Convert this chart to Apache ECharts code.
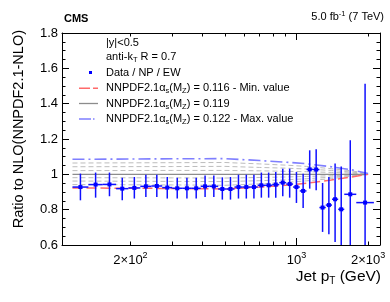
<!DOCTYPE html>
<html><head><meta charset="utf-8">
<script src="https://cdn.jsdelivr.net/npm/echarts@6/dist/echarts.min.js"></script>
<style>html,body{margin:0;padding:0;background:#fff}#c{width:390px;height:302px}</style>
</head><body><div id="c"></div>
<script>
// ---- data ----
const binEdges = [114,133,153,174,196,220,245,272,300,330,362,395,430,468,507,548,592,638,686,737,790,846,905,967,1032,1101,1172,1248,1327,1410,1497,1588,1784,2116];
const ratio   = [0.928,0.942,0.943,0.919,0.923,0.932,0.934,0.925,0.921,0.921,0.921,0.932,0.932,0.917,0.917,0.928,0.928,0.928,0.938,0.938,0.942,0.953,0.945,0.928,0.906,1.028,1.027,0.812,0.826,0.859,0.802,0.887,0.840];
const errUp   = [0.076,0.068,0.067,0.062,0.062,0.066,0.064,0.060,0.060,0.060,0.060,0.061,0.061,0.066,0.068,0.070,0.070,0.070,0.072,0.072,0.071,0.079,0.087,0.085,0.098,0.108,0.115,0.139,0.159,0.202,0.243,0.306,0.673];
const errDown = [0.075,0.074,0.067,0.066,0.060,0.060,0.062,0.062,0.058,0.058,0.058,0.060,0.060,0.060,0.060,0.065,0.065,0.065,0.070,0.070,0.074,0.077,0.077,0.090,0.097,0.109,0.117,0.138,0.165,0.242,0.300,0.400,0.700];

const thPt      = [114, 300, 500, 700, 900, 1100, 1400, 1700, 2000];
const thMin     = [0.923,0.920,0.917,0.928,0.938,0.950,0.968,0.985,1.000]; // alpha_s 0.116
const thCentral = [1.000,1.000,1.000,1.000,1.000,1.000,1.000,1.000,1.000]; // alpha_s 0.119
const thMax     = [1.085,1.088,1.089,1.078,1.069,1.060,1.043,1.026,1.005]; // alpha_s 0.122
const thGrayA = [0.942,0.940,0.938,0.946,0.954,0.963,0.976,0.989,1.000];
const thGrayB = [0.962,0.960,0.959,0.964,0.969,0.975,0.984,0.993,1.000];
const thGrayC = [0.981,0.980,0.979,0.982,0.985,0.988,0.992,0.996,1.000];
const thGrayD = [1.021,1.022,1.022,1.020,1.017,1.015,1.011,1.007,1.001];
const thGrayE = [1.043,1.044,1.045,1.039,1.035,1.030,1.022,1.013,1.003];
const thGrayF = [1.064,1.066,1.067,1.059,1.052,1.045,1.032,1.020,1.004];

const xMinorTicks = [200,300,400,500,600,700,800,900,2000];
const xMajorTicks = [1000];
const xLabelValues = [200, 1000, 2000];
const xLabelTexts = ['2×10{sup|2}', '10{sup|3}', '2×10{sup|3}'];
const yTicks = [0.6, 0.8, 1, 1.2, 1.4, 1.6, 1.8];
const xRange = [103, 2245];

// ---- build ----
const L = Math.log10;
const FONT = 'Liberation Sans, Arial, Helvetica, sans-serif';
const dataPts = ratio.map((v, i) => [L(binEdges[i]), L(binEdges[i+1]), (L(binEdges[i]) + L(binEdges[i+1])) / 2, v, v - errDown[i], v + errUp[i]]);
const curve = arr => thPt.map((p, i) => [L(p), arr[i]]);

function xAxisCfg(pos, ticks, len, showLine, labels) {
  return {
    type: 'value', position: pos, min: L(xRange[0]), max: L(xRange[1]),
    axisLine: {show: showLine, onZero: false, lineStyle: {color: '#000', width: 1}},
    axisTick: {show: true, inside: true, length: len, customValues: ticks.map(L), lineStyle: {color: '#000', width: 1}},
    axisLabel: labels ? {
      show: true, customValues: xLabelValues.map(L), margin: 9,
      fontSize: 13, fontFamily: FONT, color: '#000',
      formatter: v => { let best = 0; xLabelValues.forEach((x, i) => { if (Math.abs(L(x) - v) < Math.abs(L(xLabelValues[best]) - v)) best = i; }); return xLabelTexts[best]; },
      rich: {sup: {fontSize: 9, lineHeight: 9, padding: [0,0,9,0], fontFamily: FONT, color: '#000'}}
    } : {show: false},
    splitLine: {show: false}
  };
}
function yAxisCfg(pos, labels) {
  return {
    type: 'value', position: pos, min: 0.6, max: 1.8, interval: 0.2,
    axisLine: {show: true, onZero: false, lineStyle: {color: '#000', width: 1}},
    axisTick: {show: true, inside: true, length: 7, lineStyle: {color: '#000'}},
    minorTick: {show: true, splitNumber: 4, length: 3.5, lineStyle: {color: '#000'}},
    axisLabel: labels ? {show: true, customValues: yTicks, margin: 4, fontSize: 13, fontFamily: FONT, color: '#000',
      formatter: v => String(Math.round(v * 10) / 10)} : {show: false},
    splitLine: {show: false}, minorSplitLine: {show: false}
  };
}

const grayStyle = {color: '#bdbdbd', width: 1, type: [5, 3]};
const lineSeries = (arr, style, z) => ({type: 'line', data: curve(arr), symbol: 'none', lineStyle: style, z: z, silent: true, animation: false, xAxisIndex: 0, yAxisIndex: 0});
const subRich = {sub: {fontSize: 7.5, lineHeight: 7, padding: [6,0,0,0], fontFamily: FONT, color: '#000'}};

const chart = echarts.init(document.getElementById('c'), null, {renderer: 'canvas'});
chart.setOption({
  animation: false,
  backgroundColor: '#fff',
  grid: {left: 62, right: 10, top: 33, bottom: 57, containLabel: false},
  xAxis: [
    xAxisCfg('bottom', xMinorTicks, 3.5, true, true),
    xAxisCfg('bottom', xMajorTicks, 7, false, false),
    xAxisCfg('top', xMinorTicks, 3.5, true, false),
    xAxisCfg('top', xMajorTicks, 7, false, false)
  ],
  yAxis: [yAxisCfg('left', true), yAxisCfg('right', false)],
  series: [
    lineSeries(thGrayA, grayStyle, 2), lineSeries(thGrayB, grayStyle, 2), lineSeries(thGrayC, grayStyle, 2),
    lineSeries(thGrayD, grayStyle, 2), lineSeries(thGrayE, grayStyle, 2), lineSeries(thGrayF, grayStyle, 2),
    lineSeries(thCentral, {color: '#8c8c8c', width: 1.3, type: 'solid'}, 3),
    lineSeries(thMin, {color: '#ff6a6a', width: 1.5, type: [10, 4]}, 4),
    lineSeries(thMax, {color: '#7f7fff', width: 1.6, type: [12, 4, 2, 4]}, 4),
    {
      type: 'custom', xAxisIndex: 0, yAxisIndex: 0, z: 10, clip: true, data: dataPts,
      encode: {x: [0, 1, 2], y: [3, 4, 5]},
      renderItem: (params, api) => {
        const lo = api.value(0), hi = api.value(1), c = api.value(2), v = api.value(3), eLo = api.value(4), eHi = api.value(5);
        const pL = api.coord([lo, v]), pR = api.coord([hi, v]), pC = api.coord([c, v]);
        const pTop = api.coord([c, eHi]), pBot = api.coord([c, eLo]);
        const st = {stroke: '#1010ff', lineWidth: 1.5};
        return {type: 'group', children: [
          {type: 'line', shape: {x1: pC[0], y1: pTop[1], x2: pC[0], y2: pBot[1]}, style: st},
          {type: 'line', shape: {x1: pL[0], y1: pL[1], x2: pR[0], y2: pR[1]}, style: st},
          {type: 'rect', shape: {x: pC[0] - 2, y: pC[1] - 2, width: 4, height: 4}, style: {fill: '#0000ff'}}
        ]};
      }
    }
  ],
  graphic: [
    {type: 'text', x: 64, y: 18.5, style: {text: 'CMS', fontFamily: FONT, fontSize: 11, fontWeight: 'bold', fill: '#000', align: 'left', verticalAlign: 'middle'}},
    {type: 'text', x: 384, y: 17, style: {text: '5.0 fb{sup|-1} (7 TeV)', fontFamily: FONT, fontSize: 11, fill: '#000', align: 'right', verticalAlign: 'middle', rich: {sup: {fontSize: 7.5, lineHeight: 7, padding: [0,0,7,0], fontFamily: FONT, color: '#000'}}}},
    {type: 'text', x: 19, y: 30, rotation: Math.PI / 2, style: {text: 'Ratio to NLO(NNPDF2.1-NLO)', fontFamily: FONT, fontSize: 14.5, fill: '#000', align: 'right', verticalAlign: 'middle'}},
    {type: 'text', x: 381, y: 277, style: {text: 'Jet p{sub|T} (GeV)', fontFamily: FONT, fontSize: 15.5, lineHeight: 18, fill: '#000', align: 'right', verticalAlign: 'middle', rich: {sub: {fontSize: 10, lineHeight: 10, padding: [8,0,0,0], fontFamily: FONT, color: '#000'}}}},
    {type: 'text', x: 106, y: 42.7, style: {text: '|y|<0.5', fontFamily: FONT, fontSize: 11, fill: '#000', align: 'left', verticalAlign: 'middle'}},
    {type: 'text', x: 106, y: 57, style: {text: 'anti-k{sub|T} R = 0.7', fontFamily: FONT, fontSize: 11, lineHeight: 14, fill: '#000', align: 'left', verticalAlign: 'middle', rich: subRich}},
    {type: 'rect', shape: {x: 89, y: 71, width: 3, height: 3}, style: {fill: '#0000ff'}},
    {type: 'text', x: 106, y: 72.7, style: {text: 'Data / NP / EW', fontFamily: FONT, fontSize: 11, fill: '#000', align: 'left', verticalAlign: 'middle'}},
    {type: 'line', shape: {x1: 79, y1: 88.3, x2: 98, y2: 88.3}, style: {stroke: '#ff6a6a', lineWidth: 1.5, lineDash: [11, 3]}},
    {type: 'line', shape: {x1: 79, y1: 103.5, x2: 98, y2: 103.5}, style: {stroke: '#8c8c8c', lineWidth: 1.3}},
    {type: 'line', shape: {x1: 79, y1: 119, x2: 98, y2: 119}, style: {stroke: '#7f7fff', lineWidth: 1.6, lineDash: [12, 2, 1.5, 4]}},
    {type: 'text', x: 106, y: 88.3, style: {text: 'NNPDF2.1α{sub|s}(M{sub|Z}) = 0.116 - Min. value', fontFamily: FONT, fontSize: 11, lineHeight: 14, fill: '#000', align: 'left', verticalAlign: 'middle', rich: subRich}},
    {type: 'text', x: 106, y: 103.5, style: {text: 'NNPDF2.1α{sub|s}(M{sub|Z}) = 0.119', fontFamily: FONT, fontSize: 11, lineHeight: 14, fill: '#000', align: 'left', verticalAlign: 'middle', rich: subRich}},
    {type: 'text', x: 106, y: 119, style: {text: 'NNPDF2.1α{sub|s}(M{sub|Z}) = 0.122 - Max. value', fontFamily: FONT, fontSize: 11, lineHeight: 14, fill: '#000', align: 'left', verticalAlign: 'middle', rich: subRich}}
  ]
});
</script>
</body></html>
